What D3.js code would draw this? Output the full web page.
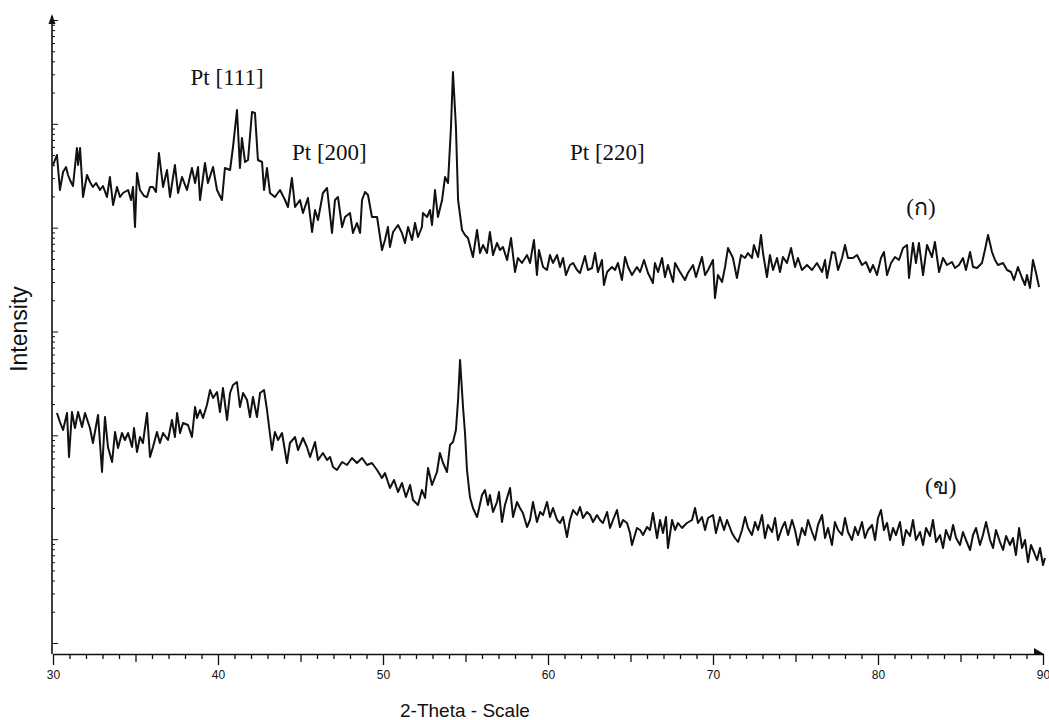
<!DOCTYPE html>
<html>
<head>
<meta charset="utf-8">
<script src="https://cdn.jsdelivr.net/npm/d3@7/dist/d3.min.js"></script>
<style>
  html, body { margin: 0; padding: 0; background: #fff; }
  svg { display: block; }
</style>
</head>
<body>
<svg id="chart" width="1049" height="720"></svg>
<script>
// XRD patterns of the two Pt samples, 2-theta (degrees) vs. intensity (arbitrary counts)
const twoThetaA = [30.00,30.24,30.42,30.61,30.79,30.91,31.03,31.21,31.45,31.52,31.64,31.82,32.06,32.24,32.42,32.61,32.85,33.03,33.27,33.45,33.64,33.88,34.06,34.24,34.55,34.73,34.85,34.97,35.09,35.27,35.52,35.70,35.88,36.06,36.24,36.42,36.67,36.91,37.09,37.39,37.58,37.82,38.12,38.42,38.61,38.79,38.91,39.21,39.39,39.70,39.94,40.24,40.42,40.73,40.91,41.15,41.33,41.45,41.64,41.82,42.06,42.24,42.42,42.67,42.79,42.97,43.15,43.45,43.76,44.06,44.24,44.48,44.67,44.97,45.15,45.45,45.70,45.88,46.06,46.36,46.61,46.91,47.09,47.27,47.52,47.70,48.00,48.18,48.42,48.61,48.73,48.91,49.09,49.33,49.64,49.94,50.12,50.30,50.42,50.61,50.91,51.15,51.33,51.52,51.76,51.94,52.12,52.36,52.42,52.67,52.85,52.97,53.15,53.33,53.58,53.76,53.94,54.12,54.24,54.42,54.55,54.67,54.79,54.97,55.15,55.45,55.70,55.88,56.06,56.30,56.48,56.67,56.91,57.09,57.27,57.52,57.76,58.00,58.18,58.42,58.73,58.91,59.15,59.33,59.45,59.70,59.94,60.12,60.30,60.55,60.73,60.91,61.09,61.33,61.52,61.76,61.94,62.24,62.42,62.67,62.85,63.03,63.27,63.39,63.58,63.88,64.06,64.24,64.48,64.67,64.85,65.09,65.39,65.58,65.82,66.06,66.36,66.48,66.67,66.91,67.09,67.27,67.58,67.70,68.00,68.30,68.48,68.79,68.97,69.33,69.52,69.70,70.00,70.12,70.30,70.55,70.73,70.91,71.21,71.45,71.70,71.94,72.12,72.36,72.48,72.73,72.91,73.03,73.27,73.45,73.64,73.88,74.06,74.24,74.48,74.73,74.97,75.15,75.39,75.70,76.00,76.30,76.61,76.79,76.91,77.21,77.39,77.58,77.82,78.00,78.18,78.48,78.73,79.03,79.27,79.52,79.70,79.94,80.18,80.36,80.55,80.79,81.03,81.27,81.52,81.76,81.88,82.12,82.30,82.48,82.73,82.97,83.27,83.45,83.70,83.94,84.18,84.48,84.67,84.91,85.15,85.33,85.58,85.76,86.00,86.30,86.48,86.67,86.91,87.09,87.27,87.58,87.82,88.06,88.24,88.48,88.73,88.91,89.03,89.21,89.39,89.58,89.76];
const countsA = [489,499,464,482,487,479,474,468,506,489,506,457,479,472,467,471,464,468,457,477,449,467,457,461,464,454,467,427,481,464,458,457,467,467,462,501,467,484,457,489,461,477,464,486,471,487,454,491,471,487,464,454,486,484,507,544,486,516,492,494,542,541,494,492,464,486,461,457,464,454,447,476,447,454,441,456,422,444,434,461,466,421,454,457,427,437,441,421,431,421,454,462,459,437,437,404,414,427,407,422,429,421,411,427,414,431,417,427,441,437,444,429,464,437,454,477,471,527,582,527,454,439,424,419,416,397,424,401,409,401,422,399,411,404,407,394,416,382,396,391,399,391,414,379,404,387,384,399,391,399,387,396,379,389,391,384,381,398,384,386,401,382,394,369,382,387,384,391,374,397,387,379,387,382,394,381,371,391,382,396,377,389,372,391,382,374,381,389,377,397,379,384,394,356,379,372,387,406,396,376,399,396,401,396,409,397,419,401,377,399,384,396,382,397,391,406,387,396,384,389,384,391,382,394,376,402,401,384,396,409,396,396,399,389,392,382,389,379,396,402,379,391,397,394,406,409,376,411,391,411,379,409,397,412,382,396,389,392,386,389,396,384,402,387,386,391,404,419,402,394,389,391,384,382,374,387,376,369,379,366,394,381,367];

const twoThetaB = [30.24,30.42,30.61,30.85,30.97,31.15,31.33,31.52,31.76,31.94,32.24,32.42,32.73,32.97,33.15,33.33,33.58,33.76,33.94,34.18,34.36,34.55,34.79,34.91,35.09,35.27,35.45,35.70,35.88,36.06,36.30,36.48,36.67,36.97,37.21,37.39,37.52,37.70,37.88,38.18,38.42,38.61,38.73,38.91,39.09,39.33,39.52,39.70,39.94,40.12,40.30,40.55,40.73,40.91,41.15,41.33,41.52,41.76,41.94,42.12,42.36,42.55,42.79,42.97,43.27,43.45,43.64,43.88,44.18,44.36,44.67,44.85,45.15,45.39,45.58,45.88,46.06,46.36,46.61,46.79,46.97,47.21,47.52,47.82,48.12,48.42,48.73,49.03,49.33,49.64,49.94,50.12,50.42,50.67,50.91,51.15,51.39,51.64,51.82,52.12,52.36,52.55,52.73,52.97,53.27,53.45,53.64,53.88,54.06,54.24,54.42,54.55,54.67,54.85,54.97,55.09,55.27,55.45,55.70,55.76,56.00,56.18,56.36,56.48,56.67,56.91,57.03,57.21,57.39,57.70,57.88,58.12,58.30,58.48,58.73,58.91,59.09,59.33,59.52,59.70,59.94,60.12,60.30,60.55,60.73,60.91,61.15,61.33,61.52,61.76,61.94,62.12,62.36,62.55,62.73,62.97,63.15,63.33,63.58,63.76,63.94,64.18,64.36,64.55,64.79,64.97,65.09,65.39,65.58,65.76,66.00,66.18,66.36,66.61,66.79,66.97,67.15,67.27,67.52,67.70,67.88,68.12,68.42,68.73,68.91,69.09,69.33,69.52,69.70,70.00,70.18,70.42,70.67,70.85,71.15,71.33,71.52,71.76,71.94,72.12,72.36,72.55,72.73,72.97,73.15,73.33,73.58,73.76,73.94,74.18,74.36,74.55,74.79,74.97,75.15,75.39,75.58,75.76,76.00,76.18,76.36,76.61,76.79,76.97,77.21,77.39,77.58,77.82,78.00,78.18,78.42,78.61,78.79,79.03,79.21,79.39,79.64,79.82,80.00,80.18,80.36,80.55,80.73,80.91,81.09,81.33,81.52,81.70,81.94,82.12,82.30,82.55,82.73,82.91,83.15,83.33,83.52,83.76,83.94,84.12,84.36,84.55,84.73,84.97,85.15,85.33,85.58,85.76,85.94,86.18,86.36,86.55,86.79,86.97,87.15,87.39,87.58,87.76,88.00,88.18,88.36,88.55,88.73,88.91,89.09,89.27,89.45,89.64,89.82,90.00,90.12];
const countsB = [241,232,224,241,197,242,226,242,227,241,226,211,239,182,237,207,192,222,206,221,214,221,207,226,202,217,211,241,197,207,222,211,221,214,234,217,241,221,231,229,217,247,236,244,236,249,264,256,262,242,266,234,261,269,272,247,261,254,237,257,237,261,264,244,204,222,214,221,191,211,217,204,216,207,197,212,194,201,194,197,187,184,192,189,196,191,196,189,191,184,176,181,166,174,162,171,157,169,154,149,164,156,186,169,182,201,191,182,209,212,224,254,294,247,221,184,157,146,137,141,159,164,149,159,142,152,162,132,149,166,137,152,146,141,127,134,152,132,142,139,152,137,146,134,131,137,117,134,144,139,147,136,142,139,132,139,134,131,142,126,134,144,127,134,131,121,109,126,124,119,127,124,141,116,134,121,137,106,134,124,131,126,131,134,146,131,137,124,136,139,121,137,124,134,121,116,112,124,137,126,119,132,124,139,116,129,122,136,114,126,132,119,134,124,109,126,119,134,122,114,129,139,116,126,109,132,124,119,136,122,114,127,119,132,116,124,129,114,136,144,124,131,114,126,119,132,109,124,118,134,114,122,109,126,118,134,112,119,106,124,114,129,116,109,122,114,104,119,126,109,119,132,114,106,124,112,104,118,109,116,99,126,106,114,92,109,102,94,106,89,96];

// Axis ticks and labels
const xMajorTicks = [30, 40, 50, 60, 70, 80, 90];
const xMinorTicks = d3.range(30, 91, 1);
const xAxisTitle = "2-Theta - Scale";
const yAxisTitle = "Intensity";

// Peak and sample annotations (2-theta, counts)
const annotations = [
  { text: "Pt [111]", x: 40.55, y: 569 },
  { text: "Pt [200]", x: 46.75, y: 494 },
  { text: "Pt [220]", x: 63.60, y: 494 },
  { text: "(ก)", x: 82.60, y: 439 },
  { text: "(ข)", x: 83.80, y: 160 }
];

const svg = d3.select("#chart");
svg.append("rect").attr("width", 1049).attr("height", 720).attr("fill", "#fff");

const x = d3.scaleLinear().domain([30, 90]).range([53, 1043]);
const y = d3.scaleLinear().domain([0, 640]).range([654, 14]);
// logarithmic tick spacing of the counts axis
const yTicks = d3.scaleLog().domain([1, 1e6]).range([643, 20]);

const ink = "#111";

// x axis
const xAxis = d3.axisBottom(x)
  .tickValues(xMinorTicks)
  .tickSize(5)
  .tickSizeOuter(0)
  .tickFormat(d => xMajorTicks.includes(d) ? d : "");
const gx = svg.append("g").attr("transform", "translate(0,654)").call(xAxis);
gx.select(".domain").attr("stroke", ink).attr("stroke-width", 1.6);
gx.selectAll(".tick line")
  .attr("stroke", ink).attr("stroke-width", 1.3)
  .attr("y2", d => d % 10 === 0 ? 11 : (d % 5 === 0 ? 8 : 5));
gx.selectAll(".tick text")
  .attr("y", 21).attr("dy", "0.32em")
  .attr("fill", ink)
  .style("font-family", "'Liberation Sans', Arial, sans-serif")
  .style("font-size", "12px");

// x-axis arrow head
svg.append("path")
  .attr("d", `M${x(90) - 9},${648} L${x(90) + 1},${654} L${x(90) - 9},${654} Z`)
  .attr("fill", ink);

// y axis
const yAxis = d3.axisRight(yTicks).tickSize(3).tickFormat("");
const gy = svg.append("g").attr("transform", "translate(52,0)").call(yAxis);
gy.select(".domain").remove();
gy.selectAll(".tick line").attr("stroke", ink).attr("stroke-width", 1)
  .attr("x2", d => Math.abs(Math.log10(d) % 1) < 1e-9 ? 6 : 3);
svg.append("line")
  .attr("x1", 52).attr("x2", 52)
  .attr("y1", 654).attr("y2", 16)
  .attr("stroke", ink).attr("stroke-width", 1.6);
svg.append("path")
  .attr("d", "M48.5,24 L52,14 L55.5,24 Z")
  .attr("fill", ink);

// patterns
const line = d3.line().x(d => x(d[0])).y(d => y(d[1]));
const seriesA = twoThetaA.map((t, i) => [t, countsA[i]]);
const seriesB = twoThetaB.map((t, i) => [t, countsB[i]]);

[seriesA, seriesB].forEach(s => {
  svg.append("path")
    .datum(s)
    .attr("d", line)
    .attr("fill", "none")
    .attr("stroke", ink)
    .attr("stroke-width", 2)
    .attr("stroke-linejoin", "round");
});

// annotations
svg.append("g").selectAll("text")
  .data(annotations)
  .join("text")
  .attr("x", d => x(d.x))
  .attr("y", d => y(d.y))
  .attr("text-anchor", "middle")
  .attr("fill", ink)
  .style("font-family", "'Liberation Serif', 'Times New Roman', serif")
  .style("font-size", "23px")
  .text(d => d.text);

// axis titles
svg.append("text")
  .attr("x", 465).attr("y", 717)
  .attr("text-anchor", "middle")
  .attr("fill", ink)
  .style("font-family", "'Liberation Sans', Arial, sans-serif")
  .style("font-size", "19px")
  .text(xAxisTitle);

svg.append("text")
  .attr("transform", "translate(27,329) rotate(-90)")
  .attr("text-anchor", "middle")
  .attr("fill", ink)
  .style("font-family", "'Liberation Sans', Arial, sans-serif")
  .style("font-size", "23px")
  .text(yAxisTitle);
</script>
</body>
</html>
